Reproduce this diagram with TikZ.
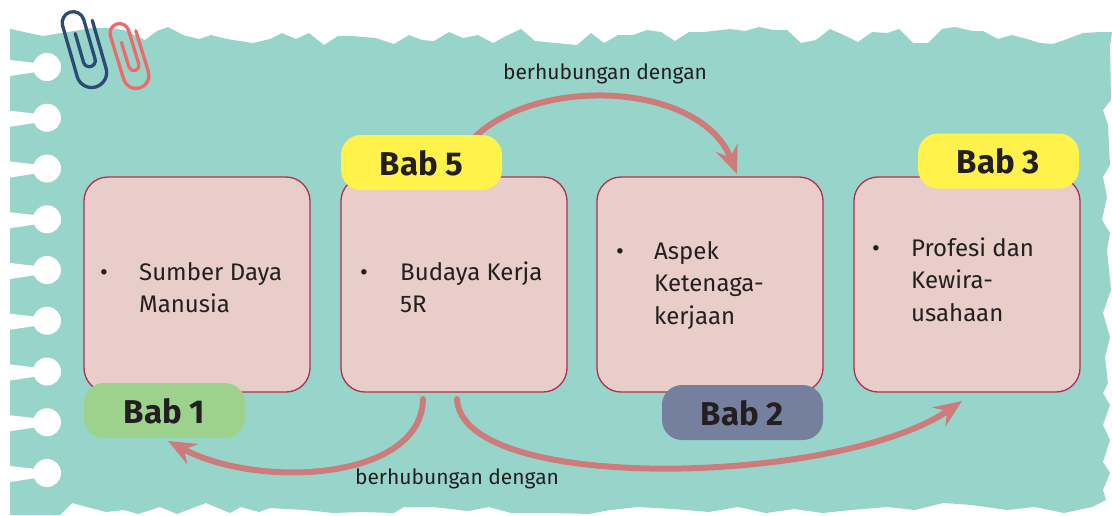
\documentclass[tikz,border=0pt]{standalone}
\usepackage{fontspec}
\setmainfont{Fira Sans}
\usetikzlibrary{arrows.meta,calc}

\definecolor{paperbg}{HTML}{97D5CA}
\definecolor{cardfill}{HTML}{E8CDC8}
\definecolor{cardline}{HTML}{B22F4E}
\definecolor{tagyellow}{HTML}{FFF24A}
\definecolor{taggreen}{HTML}{9DD28C}
\definecolor{tagslate}{HTML}{75809F}
\definecolor{arrowc}{HTML}{CD7C7B}
\definecolor{clipblue}{HTML}{2C4A74}
\definecolor{clipred}{HTML}{EE6A6A}
\definecolor{inkc}{HTML}{231F20}

\tikzset{
  card/.style={draw=cardline, line width=1.3pt, fill=cardfill, rounded corners=24pt,
    minimum width=226pt, minimum height=215pt, inner sep=0pt},
  tagbox/.style={rounded corners=20pt, minimum width=161pt, minimum height=55pt, inner sep=0pt},
  tagtxt/.style={font=\fontsize{33}{33}\selectfont\bfseries, text=inkc, anchor=base, inner sep=0pt},
  itemtxt/.style={font=\fontsize{24}{32}\selectfont, text=inkc, anchor=base west, inner sep=0pt},
  bulletdot/.style={font=\fontsize{24}{32}\selectfont, text=inkc, anchor=base, inner sep=0pt},
  linklbl/.style={font=\fontsize{21}{21}\selectfont, text=inkc, anchor=base, inner sep=0pt},
  link/.style={draw=arrowc, line width=6pt, line cap=round,
    -{Stealth[length=28pt,width=23pt,inset=10pt]}},
  clipwire/.style={line width=3.3pt, line cap=round, line join=round},
}

\begin{document}
\begin{tikzpicture}[x=1pt,y=-1pt]
\useasboundingbox (0,0) rectangle (1112,515);

% torn notebook page
\fill[paperbg] (10,29) -- (43,36) -- (92,28) -- (110,28) -- (124,30) -- (145,40) -- (157,31)
  -- (168,27) -- (183,35) -- (199,39) -- (211,35) -- (227,39) -- (253,43) -- (270,39)
  -- (282,33) -- (296,39) -- (309,33) -- (324,45) -- (338,36) -- (352,36) -- (376,38)
  -- (394,44) -- (409,35) -- (422,40) -- (434,41) -- (449,32) -- (463,38) -- (478,35)
  -- (493,43) -- (506,36) -- (521,29) -- (535,41) -- (577,45) -- (591,33) -- (604,43)
  -- (618,35) -- (633,35) -- (647,30) -- (661,32) -- (675,41) -- (689,32) -- (704,32)
  -- (730,29) -- (745,31) -- (759,27) -- (773,30) -- (787,30) -- (801,43) -- (816,40)
  -- (830,29) -- (844,35) -- (858,42) -- (872,32) -- (887,33) -- (899,29) -- (913,43)
  -- (928,43) -- (942,29) -- (955,27) -- (972,31) -- (983,31) -- (998,39) -- (1012,35)
  -- (1027,39) -- (1040,43) -- (1053,44) -- (1067,39) -- (1083,33) -- (1100,32) -- (1112,32)
  -- (1110,46) -- (1111,100) -- (1103,110) -- (1108,125) -- (1110,165) -- (1103,177)
  -- (1107,197) -- (1102,220) -- (1110,233) -- (1107,250) -- (1111,290) -- (1103,313)
  -- (1110,337) -- (1105,357) -- (1108,383) -- (1103,393) -- (1110,405) -- (1103,425)
  -- (1110,440) -- (1103,462) -- (1110,473) -- (1103,490) -- (1106,500)
  -- (1092,507) -- (1064,513) -- (1035,507) -- (1007,510) -- (972,505) -- (943,503)
  -- (915,510) -- (887,507) -- (851,510) -- (823,513) -- (794,509) -- (766,513)
  -- (738,507) -- (709,512) -- (674,509) -- (638,507) -- (610,510) -- (589,514)
  -- (553,513) -- (511,513) -- (489,507) -- (468,511) -- (433,507) -- (404,507)
  -- (394,513) -- (362,512) -- (333,513) -- (305,510) -- (270,508) -- (259,512)
  -- (241,507) -- (230,513) -- (206,503) -- (177,514) -- (160,507) -- (138,514)
  -- (124,510) -- (106,512) -- (72,503) -- (60,515) -- (10,515) -- cycle;

% punched holes with their tear slits
\foreach \k in {0,...,8}{
  \pgfmathsetmacro{\hy}{67+50.75*\k}
  \fill[white] (0,\hy-8) -- (10,\hy-7) -- (36,\hy-4) -- (36,\hy+5) -- (10,\hy+9) -- (0,\hy+9) -- cycle;
  \fill[white] (47,\hy) circle[radius=14];
}

% paper clips
\begin{scope}[shift={(120,23)}, x=1pt, y=1pt, rotate=17, scale=0.86]
  \draw[clipwire, draw=clipred] (-5,-22) -- (-5,-52) arc[start angle=180,end angle=360,radius=6]
    -- (7,-11) arc[start angle=0,end angle=180,radius=11] -- (-15,-64)
    arc[start angle=180,end angle=360,radius=15] -- (15,-14);
\end{scope}
\begin{scope}[shift={(74,11)}, x=1pt, y=1pt, rotate=16]
  \draw[clipwire, draw=clipblue] (-5,-22) -- (-5,-52) arc[start angle=180,end angle=360,radius=6]
    -- (7,-11) arc[start angle=0,end angle=180,radius=11] -- (-15,-64)
    arc[start angle=180,end angle=360,radius=15] -- (15,-14);
\end{scope}

% chapter cards
\node[card] (s1) at (197,284.5) {};
\node[card] (s2) at (454,284.5) {};
\node[card] (s3) at (710,284.5) {};
\node[card] (s4) at (967,284.5) {};

% links between chapters
\coordinate (u0) at (470,142);
\coordinate (u1) at (737,174);
\draw[link] (u0) .. controls (530,75) and (700,80) .. (u1);
\coordinate (l0) at (423,399);
\coordinate (l1) at (168,441);
\draw[link] (l0) .. controls (422,480) and (260,490) .. (l1);
\coordinate (r0) at (457,399);
\coordinate (r1) at (962,401);
\draw[link] (r0) .. controls (462,495) and (840,485) .. (r1);

\node[linklbl] (lblTop) at (605,79.3) {berhubungan dengan};
\node[linklbl] (lblBot) at (457,484) {berhubungan dengan};

% chapter tags
\node[tagbox, fill=taggreen] (t1) at (164.5,410.5) {};
\node[tagbox, fill=tagyellow] (t5) at (421.5,162.5) {};
\node[tagbox, fill=tagslate] (t2) at (742.5,412.5) {};
\node[tagbox, fill=tagyellow] (t3) at (998.5,161) {};
\node[tagtxt] (t1l) at ([yshift=-12.8pt]t1.center) {Bab 1};
\node[tagtxt] (t5l) at ([yshift=-12.8pt]t5.center) {Bab 5};
\node[tagtxt] (t2l) at ([yshift=-12.8pt]t2.center) {Bab 2};
\node[tagtxt] (t3l) at ([yshift=-12.8pt]t3.center) {Bab 3};

% card contents
\node[bulletdot] (d1) at (104,280) {•};
\node[itemtxt] (s1a) at (139,280) {Sumber Daya};
\node[itemtxt] (s1b) at (139,312) {Manusia};

\node[bulletdot] (d2) at (364,280) {•};
\node[itemtxt] (s2a) at (400,280) {Budaya Kerja};
\node[itemtxt] (s2b) at (400,312) {5R};

\node[bulletdot] (d3) at (620,259.3) {•};
\node[itemtxt] (s3a) at (654,259.3) {Aspek};
\node[itemtxt] (s3b) at (654,291.7) {Ketenaga-};
\node[itemtxt] (s3c) at (654,324) {kerjaan};

\node[bulletdot] (d4) at (876,256) {•};
\node[itemtxt] (s4a) at (911,256) {Profesi dan};
\node[itemtxt] (s4b) at (911,288.5) {Kewira-};
\node[itemtxt] (s4c) at (911,321) {usahaan};
\end{tikzpicture}
\end{document}
